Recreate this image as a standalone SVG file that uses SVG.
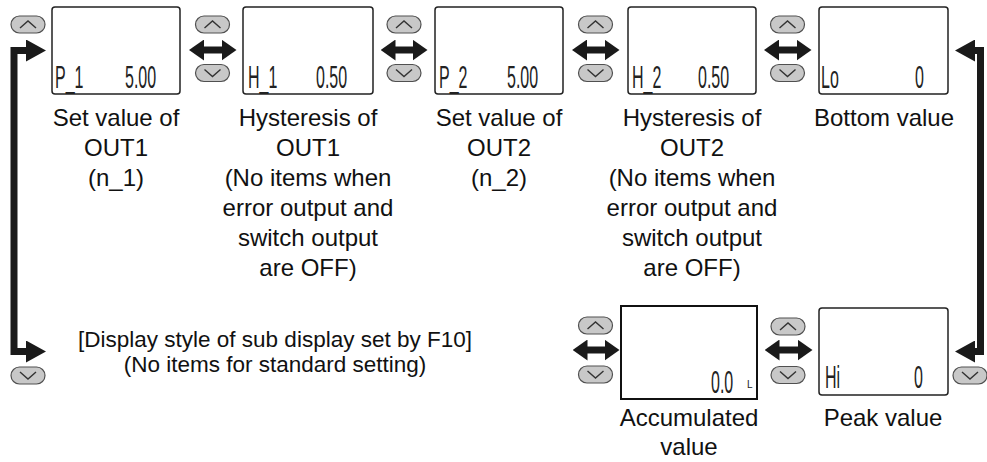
<svg xmlns="http://www.w3.org/2000/svg" xmlns:xlink="http://www.w3.org/1999/xlink" width="987" height="462" viewBox="0 0 987 462">
<style>
.lbl{font-family:"Liberation Sans",Arial,sans-serif;font-size:24px;fill:#111;text-anchor:middle}
.sublbl{font-family:"Liberation Sans",Arial,sans-serif;font-size:22.5px;fill:#111;text-anchor:middle}
.lcd{font-family:"Liberation Sans",Arial,sans-serif;font-size:32px;fill:#222}
.lcds{font-family:"Liberation Sans",Arial,sans-serif;font-size:10px;fill:#222}
.box{fill:#fff;stroke:#222;stroke-width:1.5}
.conn{fill:none;stroke:#1a1a1a;stroke-width:7;stroke-linejoin:miter}
.dbl{fill:none;stroke:#1a1a1a;stroke-width:7}
.btn{fill:#c8c8c8;stroke:#505050;stroke-width:1.2}
.chev{fill:none;stroke:#333;stroke-width:1.4}
</style>
<defs>
<marker id="ah" markerUnits="userSpaceOnUse" markerWidth="20" markerHeight="22" viewBox="0 0 20 22" refX="1" refY="11" orient="auto-start-reverse"><path d="M0,0 L20,11 L0,22 Z" fill="#1a1a1a"/></marker>
<marker id="dh" markerUnits="userSpaceOnUse" markerWidth="15" markerHeight="21" viewBox="0 0 15 21" refX="0.5" refY="10.5" orient="auto-start-reverse"><path d="M0,0 L15,10.5 L0,21 Z" fill="#1a1a1a"/></marker>
<g id="up"><rect class="btn" x="0" y="0" width="34" height="17" rx="8.5"/><polyline class="chev" points="9,12 17,5 25,12"/></g>
<g id="dn"><rect class="btn" x="0" y="0" width="34" height="17" rx="8.5"/><polyline class="chev" points="9,5 17,12 25,5"/></g>
</defs>

<g id="connectors">
<path class="conn" d="M27,50.5 H14 V351.5 H27" marker-start="url(#ah)" marker-end="url(#ah)"/>
<path class="conn" d="M974,50.5 H980.5 V351.5 H974" marker-start="url(#ah)" marker-end="url(#ah)"/>
<path class="dbl" d="M203.5,50 H222" marker-start="url(#dh)" marker-end="url(#dh)"/>
<path class="dbl" d="M395,50 H413" marker-start="url(#dh)" marker-end="url(#dh)"/>
<path class="dbl" d="M586.5,50 H605" marker-start="url(#dh)" marker-end="url(#dh)"/>
<path class="dbl" d="M778.5,50 H797" marker-start="url(#dh)" marker-end="url(#dh)"/>
<path class="dbl" d="M587,350 H605" marker-start="url(#dh)" marker-end="url(#dh)"/>
<path class="dbl" d="M779,350 H798" marker-start="url(#dh)" marker-end="url(#dh)"/>
</g>

<g id="buttons">
<use xlink:href="#up" x="11" y="16"/>
<use xlink:href="#dn" x="11" y="367"/>
<use xlink:href="#up" x="195.5" y="16"/><use xlink:href="#dn" x="195.5" y="64.5"/>
<use xlink:href="#up" x="387" y="16"/><use xlink:href="#dn" x="387" y="64.5"/>
<use xlink:href="#up" x="578.5" y="16"/><use xlink:href="#dn" x="578.5" y="64.5"/>
<use xlink:href="#up" x="770.5" y="16"/><use xlink:href="#dn" x="770.5" y="64.5"/>
<use xlink:href="#up" x="578.5" y="317"/><use xlink:href="#dn" x="578.5" y="366"/>
<use xlink:href="#up" x="771" y="318"/><use xlink:href="#dn" x="771" y="366.5"/>
<use xlink:href="#dn" x="953" y="367"/>
</g>

<g id="n1">
<rect class="box" x="52" y="7" width="128" height="87" rx="3"/>
<text class="lcd" transform="scale(0.5 1)" x="110" y="88">P_1</text>
<text class="lcd" transform="scale(0.5 1)" x="250" y="88">5.00</text>
<text class="lbl" x="116" y="126">Set value of</text>
<text class="lbl" x="116" y="156">OUT1</text>
<text class="lbl" x="116" y="186">(n_1)</text>
</g>

<g id="h1">
<rect class="box" x="243" y="7" width="130" height="87" rx="3"/>
<text class="lcd" transform="scale(0.5 1)" x="496" y="88">H_1</text>
<text class="lcd" transform="scale(0.5 1)" x="632" y="88">0.50</text>
<text class="lbl" x="308" y="126">Hysteresis of</text>
<text class="lbl" x="308" y="156">OUT1</text>
<text class="lbl" x="308" y="186">(No items when</text>
<text class="lbl" x="308" y="216">error output and</text>
<text class="lbl" x="308" y="246">switch output</text>
<text class="lbl" x="308" y="276">are OFF)</text>
</g>

<g id="n2">
<rect class="box" x="435" y="7" width="128" height="87" rx="3"/>
<text class="lcd" transform="scale(0.5 1)" x="878" y="88">P_2</text>
<text class="lcd" transform="scale(0.5 1)" x="1014" y="88">5.00</text>
<text class="lbl" x="499" y="126">Set value of</text>
<text class="lbl" x="499" y="156">OUT2</text>
<text class="lbl" x="499" y="186">(n_2)</text>
</g>

<g id="h2">
<rect class="box" x="628" y="7" width="128" height="87" rx="3"/>
<text class="lcd" transform="scale(0.5 1)" x="1264" y="88">H_2</text>
<text class="lcd" transform="scale(0.5 1)" x="1396" y="88">0.50</text>
<text class="lbl" x="692" y="126">Hysteresis of</text>
<text class="lbl" x="692" y="156">OUT2</text>
<text class="lbl" x="692" y="186">(No items when</text>
<text class="lbl" x="692" y="216">error output and</text>
<text class="lbl" x="692" y="246">switch output</text>
<text class="lbl" x="692" y="276">are OFF)</text>
</g>

<g id="lo">
<rect class="box" x="819" y="7" width="129" height="87" rx="3"/>
<text class="lcd" transform="scale(0.5 1)" x="1642" y="88">Lo</text>
<text class="lcd" transform="scale(0.5 1)" x="1830" y="88">0</text>
<text class="lbl" x="884" y="126">Bottom value</text>
</g>

<g id="sub">
<text class="sublbl" x="275" y="347">[Display style of sub display set by F10]</text>
<text class="sublbl" x="275" y="372">(No items for standard setting)</text>
</g>

<g id="acc">
<rect x="621" y="306" width="136" height="93" fill="#fff" stroke="#111" stroke-width="2"/>
<text class="lcd" transform="scale(0.5 1)" x="1422" y="393">0.0</text>
<text class="lcds" x="747" y="388">L</text>
<text class="lbl" x="689" y="426">Accumulated</text>
<text class="lbl" x="689" y="455">value</text>
</g>

<g id="peak">
<rect class="box" x="819" y="308" width="129" height="87" rx="3"/>
<text class="lcd" transform="scale(0.5 1)" x="1650" y="388">Hi</text>
<text class="lcd" transform="scale(0.5 1)" x="1828" y="388">0</text>
<text class="lbl" x="883" y="426">Peak value</text>
</g>
</svg>
